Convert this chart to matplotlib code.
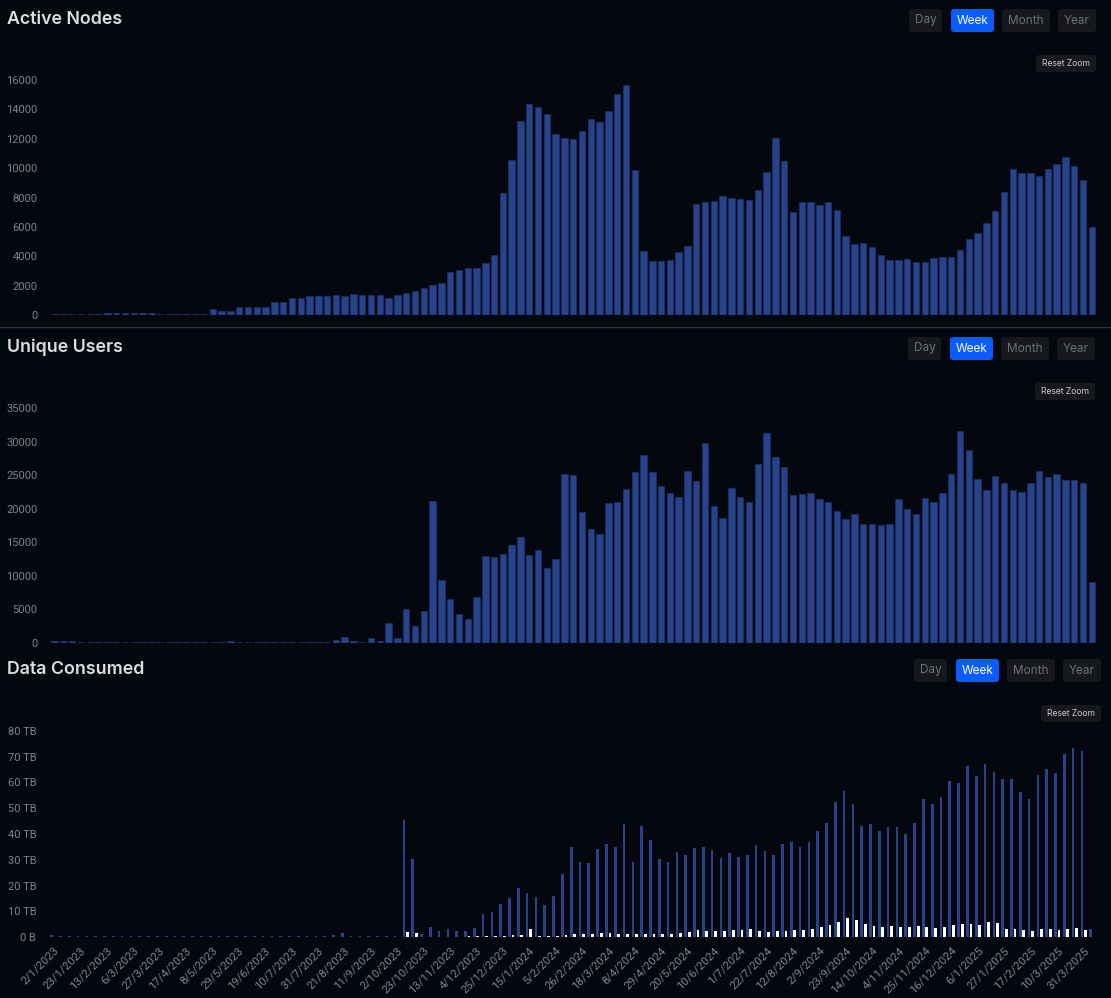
import numpy as np
import pandas as pd
import matplotlib
matplotlib.use('Agg')
import matplotlib.pyplot as plt
from matplotlib.patches import FancyBboxPatch


# DATOS (semanales, desde 2/1/2023)

semanas = pd.date_range('2023-01-02', periods=119, freq='7D')
etiquetas_semana = [f'{d.day}/{d.month}/{d.year}' for d in semanas]

nodos_activos = [
    80, 90, 90, 90, 80, 90, 150, 150, 150, 150,
    150, 120, 100, 100, 90, 80, 80, 80, 390, 300,
    250, 550, 550, 550, 550, 860, 860, 1180, 1180, 1270,
    1270, 1290, 1360, 1270, 1430, 1390, 1340, 1340, 1140, 1340,
    1480, 1630, 1860, 2040, 2180, 2930, 3090, 3200, 3220, 3540,
    4090, 8290, 10530, 13190, 14390, 14160, 13670, 12330, 12030, 11990,
    12530, 13350, 13170, 13890, 15070, 15660, 9850, 4360, 3680, 3680,
    3770, 4270, 4680, 7580, 7670, 7760, 8080, 7990, 7900, 7850,
    8490, 9720, 12080, 10460, 6990, 7720, 7670, 7470, 7720, 7170,
    5380, 4860, 4900, 4630, 4090, 3770, 3750, 3840, 3630, 3590,
    3860, 3950, 3970, 4430, 5150, 5560, 6290, 7060, 8400, 9920,
    9650, 9650, 9440, 9940, 10310, 10760, 10150, 9190, 5970,
]

usuarios_unicos = [
    250, 250, 250, 200, 150, 150, 100, 100, 100, 100,
    100, 100, 100, 100, 100, 100, 100, 100, 100, 100,
    250, 100, 100, 100, 100, 100, 100, 100, 100, 100,
    200, 200, 450, 940, 300, 200, 750, 300, 2930, 750,
    5110, 2530, 4720, 21150, 9380, 6600, 4320, 3570, 6900, 12960,
    12760, 13210, 14600, 15740, 13060, 13850, 11170, 12560, 25220, 25070,
    19460, 17030, 16190, 20850, 21050, 22890, 25470, 28050, 25470, 23340,
    22290, 21800, 25620, 24180, 29740, 20360, 18570, 23090, 21800, 20950,
    26660, 31280, 27650, 26210, 22000, 22140, 22340, 21450, 20950, 19660,
    18520, 19170, 17770, 17770, 17530, 17770, 21500, 20010, 19210, 21550,
    21000, 22390, 25220, 31530, 28800, 24430, 22790, 24830, 23780, 22740,
    22490, 23780, 25670, 24680, 25220, 24230, 24280, 23780, 9040,
]

# Data Consumed en TB: serie azul y serie blanca
datos_azul = [
    0.6, 0.3, 0.4, 0.3, 0.2, 0.2, 0.2, 0.3, 0.3, 0.4,
    0.3, 0.3, 0.3, 0.3, 0.5, 0.3, 0.3, 0.3, 0.3, 0.3,
    0.3, 0.3, 0.4, 0.3, 0.3, 0.3, 0.3, 0.5, 0.3, 0.3,
    0.3, 0.3, 0.6, 1.7, 0.4, 0.4, 0.5, 0.3, 0.2, 0.2,
    45.5, 30.2, 1.3, 4.0, 2.5, 3.1, 2.3, 2.5, 3.4, 9.0,
    9.8, 13.0, 15.2, 19.1, 16.9, 15.6, 12.4, 15.8, 24.4, 34.9,
    29.1, 28.6, 34.1, 36.0, 34.8, 43.7, 29.2, 43.2, 37.5, 30.2,
    29.1, 32.9, 31.7, 34.6, 35.0, 33.7, 30.6, 32.6, 30.9, 31.8,
    35.7, 33.5, 32.0, 36.2, 37.0, 35.0, 36.8, 41.0, 44.3, 52.6,
    56.8, 51.6, 43.2, 43.8, 41.1, 42.9, 42.8, 39.9, 44.2, 53.7,
    51.6, 54.3, 60.5, 59.7, 66.4, 62.5, 67.1, 64.1, 61.4, 61.2,
    56.3, 53.4, 62.8, 65.1, 63.6, 71.2, 73.3, 72.1, 3.1,
]

datos_blanco = [
    0, 0, 0, 0, 0, 0, 0, 0, 0, 0,
    0, 0, 0, 0, 0, 0, 0, 0, 0, 0,
    0, 0, 0, 0, 0, 0, 0, 0, 0, 0,
    0, 0, 0, 0, 0, 0, 0, 0, 0, 0,
    2.1, 1.4, 0.1, 0.1, 0.1, 0.1, 0.1, 0.3, 0.5, 0.5,
    0.4, 0.5, 0.6, 0.8, 3.0, 0.5, 0.3, 0.5, 0.9, 1.3,
    1.2, 1.2, 1.4, 1.7, 1.3, 1.3, 1.3, 1.3, 1.3, 1.2,
    1.3, 1.6, 1.9, 2.7, 2.5, 2.2, 2.5, 2.7, 2.7, 3.1,
    2.3, 2.1, 2.5, 2.5, 2.6, 2.8, 3.1, 4.0, 4.5, 5.8,
    7.2, 6.5, 5.2, 4.4, 4.0, 4.4, 3.9, 3.7, 4.1, 4.0,
    3.5, 3.7, 4.7, 5.0, 5.2, 4.8, 5.8, 5.3, 3.1, 3.2,
    2.6, 2.5, 3.1, 3.1, 2.7, 3.1, 3.5, 2.8, 0,
]

ticks_nodos = [0, 2000, 4000, 6000, 8000, 10000, 12000, 14000, 16000]
ticks_usuarios = [0, 5000, 10000, 15000, 20000, 25000, 30000, 35000]
ticks_datos = [0, 10, 20, 30, 40, 50, 60, 70, 80]
etiquetas_datos = ['0 B', '10 TB', '20 TB', '30 TB', '40 TB', '50 TB', '60 TB', '70 TB', '80 TB']


# ESTILO

W, H = 1111, 998
FONDO = '#04070d'
AZUL = '#27438c'
GRIS_TICK = '#7f838b'
FUENTE_TITULO = ['Inter', 'DejaVu Sans']
FUENTE_TICK = ['Roboto', 'DejaVu Sans']


def caja(x0, y0, x1, y1):
    """Pixeles (origen arriba-izquierda) -> rect de figura."""
    return [x0 / W, 1 - y1 / H, (x1 - x0) / W, (y1 - y0) / H]


def estilo_ejes(ax):
    ax.set_facecolor(FONDO)
    for s in ax.spines.values():
        s.set_visible(False)
    ax.tick_params(axis='both', length=0, colors=GRIS_TICK, labelsize=8, pad=7)
    for lab in ax.get_yticklabels():
        lab.set_fontfamily(FUENTE_TICK)


def boton(fig, x0, y0, x1, y1, texto, activo=False, tam=8.5, color_txt=None):
    fondo = '#0b5cff' if activo else '#16181e'
    if color_txt is None:
        color_txt = 'white' if activo else '#6d7079'
    r = caja(x0, y0, x1, y1)
    fig.patches.append(FancyBboxPatch(
        (r[0], r[1]), r[2], r[3],
        boxstyle='round,pad=0,rounding_size=0.003',
        transform=fig.transFigure, facecolor=fondo, edgecolor='none', zorder=5))
    fig.text((x0 + x1) / 2 / W, 1 - (y0 + y1) / 2 / H, texto,
             ha='center', va='center', color=color_txt, fontsize=tam,
             family=FUENTE_TITULO, zorder=6)


def botones_panel(fig, y0, dx=0):
    boton(fig, 909 + dx, y0, 942 + dx, y0 + 23, 'Day')
    boton(fig, 951 + dx, y0, 994 + dx, y0 + 23, 'Week', activo=True)
    boton(fig, 1002 + dx, y0, 1050 + dx, y0 + 23, 'Month')
    boton(fig, 1058 + dx, y0, 1096 + dx, y0 + 23, 'Year')
    boton(fig, 1036 + dx, y0 + 46, 1096 + dx, y0 + 63, 'Reset Zoom',
          tam=6.2, color_txt='#c9cace')


fig = plt.figure(figsize=(W / 100, H / 100), dpi=100, facecolor=FONDO)

x = np.arange(len(semanas))
xlim = (-0.865, 118.93)

# Panel 1: Active Nodes
ax1 = fig.add_axes(caja(47, 80, 1100, 315))
ax1.bar(x, nodos_activos, width=0.73, color=AZUL, edgecolor='#1f3572', linewidth=0.4)
ax1.set_xlim(*xlim)
ax1.set_ylim(0, 16000)
ax1.set_yticks(ticks_nodos)
ax1.set_yticklabels([str(t) for t in ticks_nodos])
ax1.set_xticks([])
estilo_ejes(ax1)

# Panel 2: Unique Users
ax2 = fig.add_axes(caja(47, 408, 1100, 643))
ax2.bar(x, usuarios_unicos, width=0.73, color=AZUL, edgecolor='#1f3572', linewidth=0.4)
ax2.set_xlim(*xlim)
ax2.set_ylim(0, 35000)
ax2.set_yticks(ticks_usuarios)
ax2.set_yticklabels([str(t) for t in ticks_usuarios])
ax2.set_xticks([])
estilo_ejes(ax2)

# Panel 3: Data Consumed
ax3 = fig.add_axes(caja(46, 731, 1103, 937))
ax3.bar(x - 0.2, datos_azul, width=0.3, color=AZUL)
ax3.bar(x + 0.2, datos_blanco, width=0.32, color='white')
ax3.set_xlim(-0.85, 119.2)
ax3.set_ylim(0, 80)
ax3.set_yticks(ticks_datos)
ax3.set_yticklabels(etiquetas_datos)
ax3.set_xticks(x[::3])
ax3.set_xticklabels(etiquetas_semana[::3], rotation=45, ha='right',
                    rotation_mode='anchor', family=FUENTE_TICK)
estilo_ejes(ax3)
ax3.tick_params(axis='x', pad=6, labelsize=8.2)

# separador entre los dos primeros paneles
fig.add_artist(plt.Line2D([0, 1], [1 - 327 / H, 1 - 327 / H],
                          transform=fig.transFigure, color='#25304a', linewidth=1))

# titulos
for texto, yc in [('Active Nodes', 19), ('Unique Users', 347), ('Data Consumed', 669)]:
    fig.text(7 / W, 1 - yc / H, texto, ha='left', va='center', color='#dcdde0',
             fontsize=12.8, family=FUENTE_TITULO, fontweight='semibold')

botones_panel(fig, 9)
botones_panel(fig, 337, dx=-1)
botones_panel(fig, 659, dx=5)

fig.savefig('out.png', dpi=100, facecolor=FONDO)
